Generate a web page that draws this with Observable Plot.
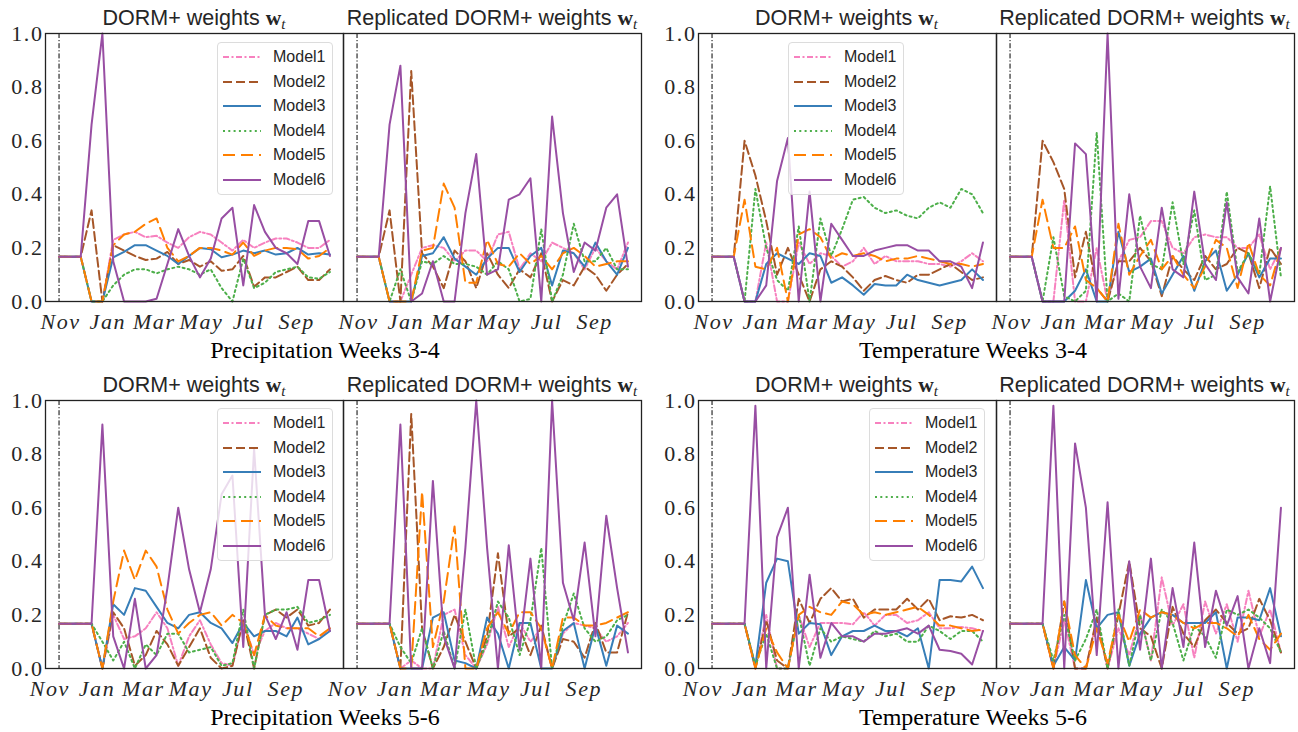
<!DOCTYPE html>
<html><head><meta charset="utf-8">
<script src="https://cdn.jsdelivr.net/npm/d3@7"></script>
<script src="https://cdn.jsdelivr.net/npm/@observablehq/plot@0.6"></script>
<style>
body{margin:0;background:#fff;}
#fig{position:relative;width:1298px;height:732px;overflow:hidden;background:#fff;}
.sp{position:absolute;}
.sp g[aria-label="x-axis tick label"] text{letter-spacing:1.6px;}
.sp g[aria-label="y-axis tick label"] text{letter-spacing:1.6px;}
.title{position:absolute;font-family:"Liberation Sans",sans-serif;font-size:21.5px;line-height:24px;color:#262626;text-align:center;white-space:nowrap;width:298px;}
.title b{font-family:"Liberation Serif",serif;font-weight:bold;}
.title sub{font-family:"Liberation Serif",serif;font-style:italic;font-size:15px;vertical-align:-4px;line-height:0;}
.group{position:absolute;font-family:"Liberation Serif",serif;font-size:24px;line-height:28px;color:#000;text-align:center;width:500px;white-space:nowrap;}
.legend{position:absolute;width:116px;height:153px;background:rgba(255,255,255,0.8);border:1px solid #dcdcdc;border-radius:4px;box-sizing:border-box;font-family:"Liberation Sans",sans-serif;font-size:16px;color:#262626;}
.legend .row{position:absolute;left:0;height:20px;width:116px;}
.legend svg{position:absolute;left:4px;top:5px;}
.legend span{position:absolute;left:55px;top:1px;line-height:18px;}
</style>
</head><body>
<div id="fig"></div>
<script>
const models = ["Model1","Model2","Model3","Model4","Model5","Model6"];
const colors = ["#f781bf","#a65628","#377eb8","#4daf4a","#ff7f00","#984ea3"];
const dashes = ["6,2.5,2,2.5","9,4",null,"2,3.3","12,6",null];
const yTicks = [0,0.2,0.4,0.6,0.8,1.0];
const groupLabels = ["Precipitation Weeks 3-4","Temperature Weeks 3-4","Precipitation Weeks 5-6","Temperature Weeks 5-6"];
const startDates = ["2019-10-30","2019-10-30","2019-11-13","2019-11-13"];

// Precipitation Weeks 3-4
const precip34Dorm = [
 [.167,.167,.167,0,0,.23,.25,.26,.24,.245,.22,.2,.24,.26,.25,.22,.19,.23,.2,.22,.235,.235,.22,.2,.2,.23],
 [.167,.167,.167,.34,0,.21,.19,.17,.155,.16,.185,.14,.155,.13,.15,.115,.12,.17,.055,.09,.09,.11,.13,.08,.08,.12],
 [.167,.167,.167,0,0,.165,.185,.21,.21,.19,.17,.14,.17,.2,.195,.165,.175,.19,.18,.19,.175,.18,.2,.175,.18,.175],
 [.167,.167,.167,0,0,.06,.1,.12,.12,.105,.12,.13,.12,.1,.12,.05,0,.16,.05,.07,.11,.12,.13,.09,.085,.11],
 [.167,.167,.167,0,0,.21,.25,.26,.29,.31,.2,.15,.17,.2,.2,.19,.175,.22,.17,.19,.2,.2,.195,.16,.17,.2],
 [.167,.167,.167,.66,1,.15,0,0,0,.01,.14,.27,.17,.09,.16,.31,.35,.06,.36,.26,.2,.18,.14,.3,.3,.17]
];
const precip34Rep = [
 [.167,.167,.167,0,0,.1,.2,.21,.2,.15,.19,.19,.15,.25,.26,.12,.18,.15,.22,.2,.18,.12,.2,.15,.12,.22],
 [.167,.167,.167,.34,0,.86,.18,.13,.05,.19,.15,.05,.18,.1,.05,.12,.09,.18,0,.08,.06,.13,.1,.04,.1,.14],
 [.167,.167,.167,0,0,0,.17,.18,.24,.16,.13,.1,.16,.2,.2,.11,.17,.2,.06,.19,.18,.13,.22,.15,.1,.2],
 [.167,.167,.167,0,.12,0,.15,.14,.17,.14,.14,.13,.1,.15,.12,0,.01,.27,0,.1,.29,.15,.15,.2,.12,.12],
 [.167,.167,.167,0,0,0,.19,.2,.44,.35,.07,.07,.23,.14,.13,.18,.14,.17,.12,.18,.2,.17,.13,.14,.15,.15],
 [.167,.167,.167,.66,.88,0,.03,.15,0,0,.33,.55,.1,.12,.38,.4,.46,0,.69,.33,.11,.22,.19,.35,.4,.13]
];
// Temperature Weeks 3-4
const temp34Dorm = [
 [.167,.167,.167,0,0,.22,0,0,.22,.14,.18,.17,.13,.15,.2,.14,.17,.15,.15,.15,.14,.14,.13,.15,.18,.15],
 [.167,.167,.167,.6,.47,.3,.1,.2,.1,0,.12,.15,.13,.09,.04,.08,.095,.08,.07,.1,.1,.12,.14,.11,.08,.09],
 [.167,.167,.167,0,0,.14,.18,.16,.14,.18,.17,.07,.09,.06,.025,.065,.06,.06,.1,.08,.07,.06,.07,.08,.12,.08],
 [.167,.167,.167,0,.42,.2,.08,.04,.28,0,.31,.17,.27,.38,.39,.35,.33,.34,.32,.31,.35,.37,.35,.42,.4,.33],
 [.167,.167,.167,.38,.13,.12,.2,0,.25,.27,.24,.16,.18,.17,.18,.17,.15,.16,.16,.17,.16,.15,.14,.14,.13,.14],
 [.167,.167,.167,0,0,.06,.45,.61,0,.41,0,.29,.23,.17,.17,.19,.2,.21,.21,.19,.19,.15,.15,.13,.05,.22]
];
const temp34Rep = [
 [.167,.167,.167,0,0,.38,0,0,.2,0,.15,.23,.24,.3,.3,.2,.18,.24,.25,.24,.24,.2,.2,.25,.12,.2],
 [.167,.167,.167,.6,.52,.42,.09,.26,.05,0,.15,.15,.2,.15,.02,.17,.12,.08,.17,.12,.14,.2,.18,.05,.2,.14],
 [.167,.167,.167,0,0,0,.04,.12,0,0,.26,.11,.13,.16,.03,.1,.17,.04,.15,.19,.04,.1,.18,.09,.16,.16],
 [.167,.167,.167,0,.24,.02,0,.04,.63,0,.03,0,.32,.14,.12,.37,.14,.34,.08,.1,.41,.11,.18,.1,.43,.09],
 [.167,.167,.167,.38,.2,.2,.28,.08,.05,0,.29,.1,.17,.23,.12,.17,.1,.05,.13,.23,.2,.05,.22,.1,.06,.2],
 [.167,.167,.167,0,0,0,.59,.55,0,1,.01,.4,.13,.05,.35,.12,.09,.41,.14,.08,.37,.09,.03,.31,0,.2]
];
// Precipitation Weeks 5-6
const precip56Dorm = [
 [.167,.167,.167,.167,0,.2,.11,.12,.15,.21,.15,.01,.12,.18,.09,.02,.01,.18,.05,.14,.17,.15,.15,.13,.11,.15],
 [.167,.167,.167,.167,0,.21,.15,.01,.05,.14,.09,.01,.08,.15,.04,0,.01,.18,0,.2,.22,.19,.22,.16,.17,.22],
 [.167,.167,.167,.167,0,.24,.2,.3,.29,.23,.17,.15,.2,.21,.17,.15,.095,.17,.12,.14,.14,.12,.19,.09,.11,.14],
 [.167,.167,.167,.167,.1,.03,.1,0,.09,.05,.13,.13,.06,.07,.08,.01,.02,.22,0,.2,.22,.22,.23,.17,.18,.2],
 [.167,.167,.167,.167,0,.25,.44,.33,.44,.38,.22,.13,.17,.2,.21,.16,.2,.17,.05,.2,.16,.15,.15,.15,.12,.15],
 [.167,.167,.167,.167,.91,.12,0,.26,0,.05,.3,.6,.37,.21,.37,.65,.72,.08,.82,.2,.11,.21,.07,.33,.33,.14]
];
const precip56Rep = [
 [.167,.167,.167,.167,0,.03,0,0,.2,.22,.05,0,.09,.23,.08,.17,.1,.15,0,.13,.17,.16,.15,.1,.12,.17],
 [.167,.167,.167,.167,0,.95,.15,0,.08,.2,.1,0,.12,.43,.12,.15,.05,.16,0,.11,.1,.04,.17,.06,.06,.21],
 [.167,.167,.167,.167,0,0,0,.19,.21,.03,.02,0,.19,.13,0,.17,.17,0,0,.14,.17,0,.16,.01,.16,.13],
 [.167,.167,.167,.167,.08,.02,.15,0,.14,0,.22,0,.1,.25,.19,.05,.18,.45,0,.16,.28,.15,.1,.12,.18,.2],
 [.167,.167,.167,.167,0,0,.66,.08,.25,.53,0,0,.15,.21,.13,.21,.21,.15,0,.19,.19,.16,.16,.17,.19,.21],
 [.167,.167,.167,.167,.91,0,0,.7,.12,0,.45,1,.45,0,.46,.07,.41,0,1,.32,.18,.47,.12,.57,.3,.06]
];
// Temperature Weeks 5-6
const temp56Dorm = [
 [.167,.167,.167,.167,0,.2,0,0,.2,.08,.17,.17,.17,.165,.21,.16,.2,.2,.17,.18,.21,.15,.15,.155,.15,.14],
 [.167,.167,.167,.167,0,.18,.03,0,.26,.17,.26,.3,.25,.26,.19,.22,.22,.22,.26,.22,.26,.18,.195,.19,.2,.18],
 [.167,.167,.167,.167,.01,.32,.41,.4,.13,.17,.165,.05,.12,.14,.14,.16,.14,.14,.12,.15,0,.33,.33,.325,.38,.3],
 [.167,.167,.167,.167,.01,.13,0,0,.2,.01,.15,.1,.12,.11,.1,.14,.12,.13,.1,.1,.16,.14,.11,.14,.14,.1],
 [.167,.167,.167,.167,0,.15,.06,0,.2,.23,.21,.2,.25,.24,.2,.21,.2,.21,.22,.23,.2,.16,.16,.15,.14,.145],
 [.167,.167,.167,.167,.98,0,.49,.6,0,.35,.04,.17,.12,.12,.1,.13,.13,.14,.15,.13,.16,.07,.065,.055,.015,.14]
];
const temp56Rep = [
 [.167,.167,.167,.167,0,.18,0,0,.18,0,.15,.05,.2,.03,.34,.16,.24,.04,.25,.13,.24,.1,.29,.12,.22,.06],
 [.167,.167,.167,.167,0,.25,0,0,.19,0,.2,.4,.15,.12,0,.23,.13,.08,.18,.22,.17,.13,.15,.26,.18,.06],
 [.167,.167,.167,.167,.01,.08,.03,.33,.15,.2,.21,.01,.13,.19,.21,.2,.17,.17,.17,.21,0,.19,.19,.18,.3,.12],
 [.167,.167,.167,.167,.03,.2,.03,.11,.22,0,.22,.01,.2,.03,.22,.17,.03,.16,.12,.04,.22,.2,.22,.19,.15,.06],
 [.167,.167,.167,.167,0,.25,.05,0,.15,.02,.2,.1,.22,.19,.21,.2,.17,.15,.17,.17,.15,.12,.2,.11,.07,.13],
 [.167,.167,.167,.167,.98,0,.84,.6,.05,.62,0,.4,.07,.41,0,.3,.08,.47,.08,.29,.16,.27,0,.15,.02,.6]
];

const groups = [
  {dorm: precip34Dorm, rep: precip34Rep, left: 45,  top: 33,  legend: [217, 42]},
  {dorm: temp34Dorm,   rep: temp34Rep,   left: 697.5, top: 33, legend: [788, 42]},
  {dorm: precip56Dorm, rep: precip56Rep, left: 45,  top: 400, legend: [217, 408]},
  {dorm: temp56Dorm,   rep: temp56Rep,   left: 697.5, top: 400, legend: [869, 408]}
];

const DAY = 864e5, W = 298, H = 268, MT = 14, MB = 44;
const fig = document.getElementById("fig");

function subplot(series, start, showY) {
  const dates = d3.range(series[0].length).map(k => new Date(+start + k * 14 * DAY));
  const last = dates[dates.length - 1];
  const dom = [new Date(+start - 17.5 * DAY), new Date(+last + 17.5 * DAY)];
  const ticks = d3.utcMonth.every(2).range(dom[0], last);
  const mL = showY ? 45 : 0;
  const marks = [
    Plot.ruleX([start], {stroke: "#000", strokeWidth: 1, strokeDasharray: "5,2,1.2,2"}),
    ...series.map((arr, i) => Plot.line(arr.map((v, k) => ({date: dates[k], value: v})),
      {x: "date", y: "value", stroke: colors[i], strokeWidth: 2, strokeDasharray: dashes[i] || undefined})),
    Plot.frame({stroke: "#222", strokeWidth: 1.3}),
    Plot.axisX({ticks, tickFormat: d3.utcFormat("%b"), tickSize: 0, tickPadding: 12, fontStyle: "italic", fontSize: 22, label: null})
  ];
  if (showY) marks.push(Plot.axisY({ticks: yTicks, tickFormat: d3.format(".1f"), tickSize: 0, tickPadding: 2, fontSize: 22, label: null}));
  return Plot.plot({
    width: W + mL, height: H + MT + MB,
    marginLeft: mL, marginRight: 0, marginTop: MT, marginBottom: MB,
    x: {type: "utc", domain: dom},
    y: {domain: [0, 1], axis: showY ? undefined : null},
    style: {fontFamily: "Liberation Serif, serif", fontSize: "22px", color: "#262626", background: "transparent", overflow: "visible"},
    marks
  });
}

function legendBox(x, y) {
  const div = document.createElement("div");
  div.className = "legend";
  div.style.left = x + "px"; div.style.top = y + "px";
  models.forEach((m, i) => {
    const row = document.createElement("div");
    row.className = "row";
    row.style.top = (4 + 24.5 * i) + "px";
    const dash = dashes[i] ? ` stroke-dasharray="${dashes[i]}"` : "";
    row.innerHTML = `<svg width="40" height="10"><line x1="1" x2="39" y1="5" y2="5" stroke="${colors[i]}" stroke-width="2.2"${dash}/></svg><span>${m}</span>`;
    div.appendChild(row);
  });
  fig.appendChild(div);
}

function addTitle(html, left, top) {
  const t = document.createElement("div");
  t.className = "title";
  t.style.left = left + "px"; t.style.top = top + "px";
  t.innerHTML = html;
  fig.appendChild(t);
}

groups.forEach((g, gi) => {
  const start = new Date(startDates[gi] + "T00:00:00Z");
  const a = subplot(g.dorm, start, true);
  a.classList.add("sp");
  a.style.left = (g.left - 45) + "px"; a.style.top = (g.top - MT) + "px";
  fig.appendChild(a);
  const b = subplot(g.rep, start, false);
  b.classList.add("sp");
  b.style.left = (g.left + W) + "px"; b.style.top = (g.top - MT) + "px";
  fig.appendChild(b);
  const tTop = g.top - 27;
  addTitle('DORM+ weights <b>w</b><sub>t</sub>', g.left, tTop);
  addTitle('Replicated DORM+ weights <b>w</b><sub>t</sub>', g.left + W, tTop);
  legendBox(g.legend[0], g.legend[1]);
  const lab = document.createElement("div");
  lab.className = "group";
  lab.textContent = groupLabels[gi];
  lab.style.left = (gi % 2 === 0 ? 325 : 973) - 250 + "px";
  lab.style.top = (g.top + H + 35) + "px";
  fig.appendChild(lab);
});
</script>
</body></html>
